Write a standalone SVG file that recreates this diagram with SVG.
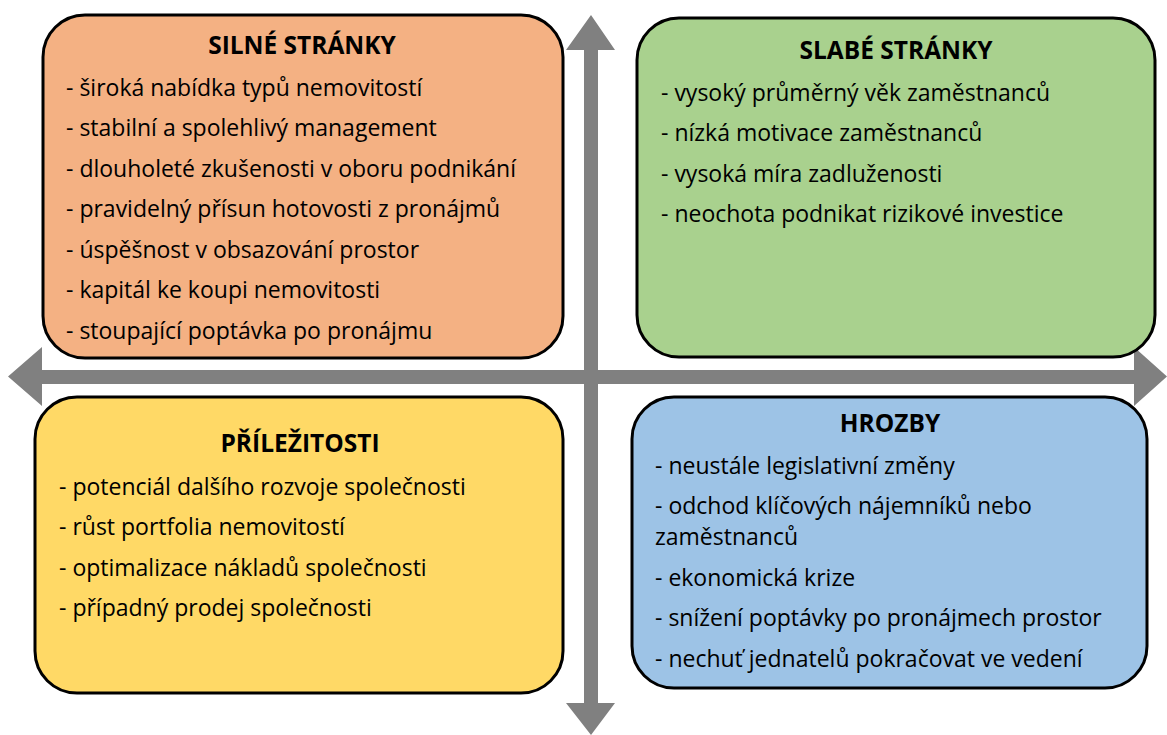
<svg xmlns="http://www.w3.org/2000/svg" width="1167" height="735" viewBox="0 0 1167 735">
<style>
.box{stroke:#000;stroke-width:3}
.t{font-family:"Open Sans","Noto Sans",sans-serif;font-size:24.5px;font-weight:bold;fill:#000;text-anchor:middle}
.l{font-family:"Open Sans","Noto Sans",sans-serif;font-size:23px;fill:#000}
.ax{fill:#808080}
</style>
<rect width="1167" height="735" fill="#fff"/>
<g id="connectors">
<polygon class="ax" points="584,50 566,50 591,15 615,50 598,50 598,703 615,703 591,735 566,703 584,703"/>
<polygon class="ax" points="42,370 42,347 8,376.5 42,406 42,384 1134,384 1134,406 1167,376.5 1134,347 1134,370"/>
</g>
<g id="silne">
<rect class="box" x="43" y="15" width="520" height="343" rx="42" fill="#F4B183"/>
<text class="t" x="302" y="54">SILNÉ STRÁNKY</text>
<text class="l" x="66" y="96">- široká nabídka typů nemovitostí</text>
<text class="l" x="66" y="136">- stabilní a spolehlivý management</text>
<text class="l" x="66" y="177">- dlouholeté zkušenosti v oboru podnikání</text>
<text class="l" x="66" y="217">- pravidelný přísun hotovosti z pronájmů</text>
<text class="l" x="66" y="258">- úspěšnost v obsazování prostor</text>
<text class="l" x="66" y="298">- kapitál ke koupi nemovitosti</text>
<text class="l" x="66" y="339">- stoupající poptávka po pronájmu</text>
</g>
<g id="slabe">
<rect class="box" x="637" y="18" width="518" height="339" rx="42" fill="#A9D18E"/>
<text class="t" x="896" y="59">SLABÉ STRÁNKY</text>
<text class="l" x="661" y="101">- vysoký průměrný věk zaměstnanců</text>
<text class="l" x="661" y="141">- nízká motivace zaměstnanců</text>
<text class="l" x="661" y="182">- vysoká míra zadluženosti</text>
<text class="l" x="661" y="222">- neochota podnikat rizikové investice</text>
</g>
<g id="prilezitosti">
<rect class="box" x="35" y="397" width="528" height="296" rx="42" fill="#FFD966"/>
<text class="t" x="300" y="452">PŘÍLEŽITOSTI</text>
<text class="l" x="59" y="495">- potenciál dalšího rozvoje společnosti</text>
<text class="l" x="59" y="535">- růst portfolia nemovitostí</text>
<text class="l" x="59" y="576">- optimalizace nákladů společnosti</text>
<text class="l" x="59" y="616">- případný prodej společnosti</text>
</g>
<g id="hrozby">
<rect class="box" x="632" y="397" width="515" height="291" rx="42" fill="#9DC3E6"/>
<text class="t" x="890" y="432">HROZBY</text>
<text class="l" x="655" y="474">- neustále legislativní změny</text>
<text class="l" x="655" y="514">- odchod klíčových nájemníků nebo</text>
<text class="l" x="655" y="545">zaměstnanců</text>
<text class="l" x="655" y="586">- ekonomická krize</text>
<text class="l" x="655" y="626">- snížení poptávky po pronájmech prostor</text>
<text class="l" x="655" y="667">- nechuť jednatelů pokračovat ve vedení</text>
</g>
</svg>
